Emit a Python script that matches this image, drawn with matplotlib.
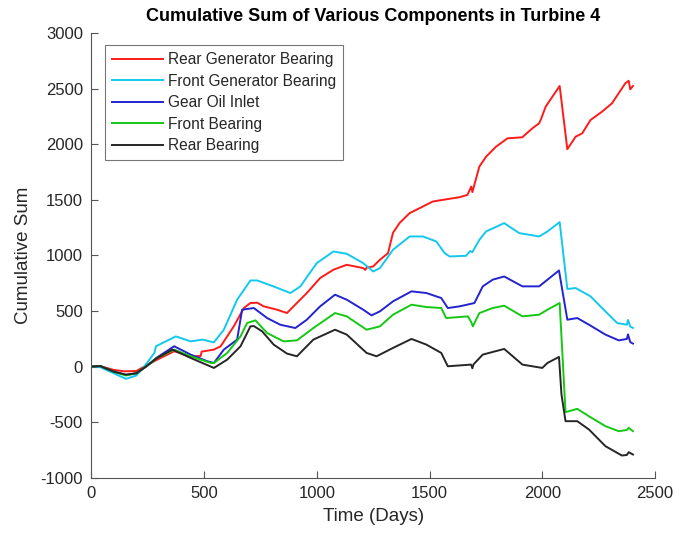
import matplotlib
matplotlib.use("Agg")
import matplotlib.pyplot as plt

plt.rcParams['font.family'] = ['Liberation Sans', 'DejaVu Sans']
plt.rcParams['axes.unicode_minus'] = False

# cumulative sums per component, (day, value) pairs
rear_gen_days = [0, 40, 100, 147, 200, 243, 290, 368, 441, 485, 490, 544, 574, 632, 677, 706, 736,
                 765, 824, 868, 897, 956, 1015, 1074, 1133, 1206, 1215, 1221, 1250, 1280, 1316, 1338,
                 1368, 1412, 1470, 1514, 1558, 1633, 1668, 1685, 1690, 1695, 1721, 1751, 1795, 1846,
                 1911, 1956, 1986, 1995, 2015, 2077, 2111, 2148, 2177, 2214, 2265, 2309, 2368, 2383,
                 2390, 2402]
rear_gen = [0, 5, -30, -42, -40, 10, 60, 138, 93, 95, 135, 153, 183, 362, 527, 572, 575,
            542, 512, 482, 542, 662, 797, 872, 916, 886, 870, 890, 901, 961, 1021, 1204,
            1294, 1381, 1440, 1485, 1500, 1524, 1545, 1620, 1570, 1608, 1800, 1889, 1979, 2054,
            2063, 2144, 2189, 2230, 2339, 2525, 1956, 2069, 2099, 2219, 2294, 2369, 2549, 2572,
            2495, 2525]

front_gen_days = [0, 40, 100, 154, 200, 235, 280, 287, 375, 441, 494, 544, 588, 647, 706, 736,
                  809, 883, 927, 1000, 1074, 1133, 1206, 1250, 1280, 1338, 1412, 1471, 1530, 1567,
                  1589, 1662, 1680, 1690, 1721, 1751, 1831, 1898, 1986, 2023, 2077, 2111, 2148,
                  2214, 2280, 2332, 2375, 2380, 2390, 2402]
front_gen = [0, -5, -60, -110, -80, 0, 123, 183, 272, 227, 243, 218, 332, 602, 775, 775,
             721, 662, 721, 931, 1036, 1015, 931, 856, 886, 1051, 1171, 1171, 1126, 1021,
             991, 997, 1040, 1030, 1141, 1216, 1291, 1201, 1171, 1216, 1300, 698, 707,
             632, 497, 392, 377, 420, 360, 348]

gear_oil_days = [0, 40, 100, 154, 200, 243, 290, 368, 441, 515, 544, 588, 647, 669, 721, 780, 838,
                 905, 956, 1015, 1081, 1133, 1206, 1243, 1280, 1338, 1420, 1486, 1552, 1581, 1633,
                 1699, 1736, 1780, 1831, 1912, 1986, 2023, 2074, 2111, 2155, 2207, 2280, 2339,
                 2375, 2380, 2390, 2402]
gear_oil = [0, 5, -45, -75, -60, 0, 80, 183, 108, 48, 33, 153, 243, 512, 527, 437, 377,
            347, 422, 542, 647, 602, 512, 461, 497, 587, 677, 662, 617, 527, 542,
            572, 722, 782, 811, 722, 722, 782, 865, 422, 437, 377, 288, 236,
            249, 290, 220, 207]

front_bear_days = [0, 40, 100, 154, 200, 243, 290, 368, 441, 530, 544, 603, 662, 691, 728, 780,
                   853, 912, 985, 1081, 1133, 1221, 1280, 1338, 1420, 1486, 1552, 1574, 1670, 1685,
                   1692, 1721, 1780, 1831, 1912, 1986, 2023, 2077, 2103, 2155, 2207, 2280, 2339,
                   2375, 2383, 2402]
front_bear = [0, 5, -45, -80, -60, 0, 75, 153, 93, 33, 33, 123, 272, 392, 416, 302,
              227, 236, 347, 482, 452, 332, 362, 467, 557, 536, 527, 437, 452, 400,
              362, 482, 527, 548, 452, 467, 512, 572, -410, -380, -447, -536, -581,
              -570, -550, -581]

rear_bear_days = [0, 40, 100, 154, 200, 243, 290, 360, 441, 544, 603, 662, 706, 721, 758, 809,
                  868, 912, 985, 1081, 1133, 1221, 1265, 1280, 1338, 1420, 1486, 1552, 1581, 1684,
                  1690, 1695, 1736, 1831, 1912, 2000, 2023, 2074, 2085, 2103, 2155, 2207, 2280,
                  2353, 2375, 2383, 2402]
rear_bear = [0, 5, -45, -72, -60, 0, 75, 153, 78, -12, 63, 183, 362, 365, 317, 198,
             117, 93, 243, 332, 288, 123, 93, 108, 168, 249, 198, 123, 3, 18,
             -15, 20, 108, 159, 18, -12, 33, 87, -250, -491, -491, -566, -716,
             -800, -795, -770, -791]

series = [
    ("Rear Generator Bearing", rear_gen_days, rear_gen, "#ff1a1a"),
    ("Front Generator Bearing", front_gen_days, front_gen, "#12c8ee"),
    ("Gear Oil Inlet", gear_oil_days, gear_oil, "#2323cf"),
    ("Front Bearing", front_bear_days, front_bear, "#14c814"),
    ("Rear Bearing", rear_bear_days, rear_bear, "#262626"),
]

fig = plt.figure(figsize=(6.91, 5.35), dpi=100)
ax = fig.add_axes([0.132, 0.107, 0.816, 0.831])

for name, d, v, c in series:
    ax.plot(d, v, color=c, lw=1.4, label=name)

ax.set_xlim(0, 2500)
ax.set_ylim(-1000, 3000)
ax.set_xticks(range(0, 2501, 500))
ax.set_yticks(range(-1000, 3001, 500))

ax.spines['top'].set_visible(False)
ax.spines['right'].set_visible(False)
for s in ('left', 'bottom'):
    ax.spines[s].set_color('#555555')
    ax.spines[s].set_linewidth(0.8)
ax.tick_params(direction='in', length=5, width=0.8, colors='#555555', labelsize=12,
               labelcolor='#262626', pad=6)

ax.set_xlabel('Time (Days)', fontsize=13.5, color='#262626', labelpad=5)
ax.set_ylabel('Cumulative Sum', fontsize=13.5, color='#262626', labelpad=6)
ax.set_title('Cumulative Sum of Various Components in Turbine 4', fontsize=13,
             fontweight='bold', pad=9)

leg = ax.legend(loc='upper left', bbox_to_anchor=(0.024, 0.973), borderaxespad=0,
                fontsize=11.2, handlelength=3.3, frameon=True, fancybox=False,
                borderpad=0.45, labelspacing=0.42, handletextpad=0.3, edgecolor='#555555')
leg.get_frame().set_linewidth(0.8)
for t in leg.get_texts():
    t.set_color('#262626')

fig.savefig('out.png', dpi=100)
